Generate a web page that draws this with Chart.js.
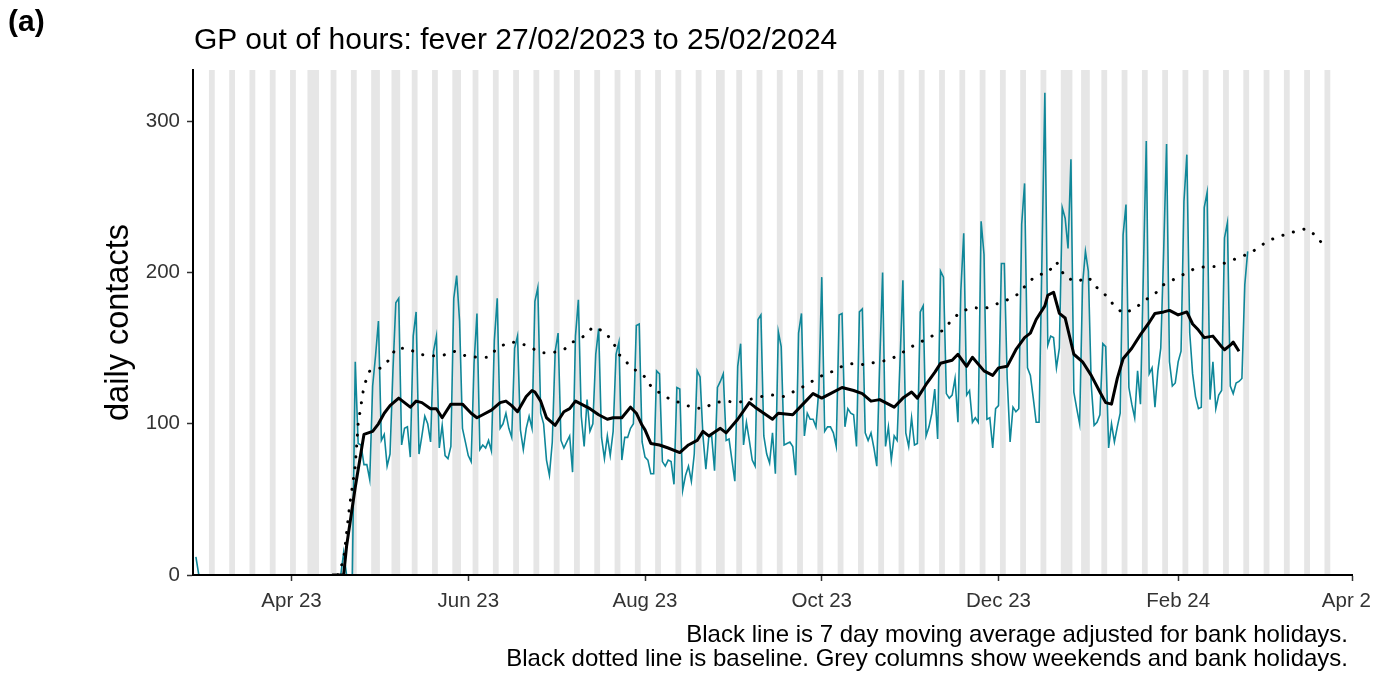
<!DOCTYPE html>
<html>
<head>
<meta charset="utf-8">
<title>GP out of hours: fever</title>
<script src="https://cdn.jsdelivr.net/npm/chart.js@4.4.1/dist/chart.umd.min.js"></script>
<style>
  body { margin: 0; background: #fff; font-family: "Liberation Sans", Arial, sans-serif; color: #000; }
  #wrap { position: relative; width: 1387px; height: 678px; overflow: hidden; background: #fff; }
  #chart { position: absolute; left: 0; top: 0; }
  #tag { position: absolute; left: 8px; top: 6px; font-size: 30px; line-height: 30px; font-weight: bold; }
  #title { position: absolute; left: 194px; top: 24px; font-size: 30px; line-height: 30px; white-space: nowrap; }
  #caption { position: absolute; left: 0; top: 622px; width: 1348px; text-align: right; font-size: 24px; line-height: 24px; white-space: nowrap; }
</style>
</head>
<body>
<div id="wrap">
  <canvas id="chart" width="1371" height="678"></canvas>
  <div id="tag">(a)</div>
  <div id="title">GP out of hours: fever 27/02/2023 to 25/02/2024</div>
  <div id="caption">Black line is 7 day moving average adjusted for bank holidays.<br>Black dotted line is baseline. Grey columns show weekends and bank holidays.</div>
</div>
<script>
// x positions are days counted from Sun 26/02/2023 (day 0)
const startDate = Date.UTC(2023, 1, 26);
const dayOf = (s) => Math.round((Date.parse(s) - startDate) / 864e5);

const tickDates = ["2023-04-01", "2023-06-01", "2023-08-01", "2023-10-01", "2023-12-01", "2024-02-01", "2024-04-01"];
const tickLabels = ["Apr 23", "Jun 23", "Aug 23", "Oct 23", "Dec 23", "Feb 24", "Apr 24"];
const yTicks = [0, 100, 200, 300];

const bankHolidays = ["2023-04-07", "2023-04-10", "2023-05-01", "2023-05-08", "2023-05-29",
  "2023-08-28", "2023-12-25", "2023-12-26", "2024-01-01"];
const shadeFrom = "2023-02-27";
const shadeTo = "2024-03-24";

// daily contacts, one value per day starting 27/02/2023 (day 1)
const dailyContacts = [
  12,
  0, 0, 0, 0, 0, 0, 0, 0, 0, 0,
  0, 0, 0, 0, 0, 0, 0, 0, 0, 0,
  0, 0, 0, 0, 0, 0, 0, 0, 0, 0,
  0, 0, 0, 0, 0, 0, 0, 0, 0, 0,
  0, 0, 0, 0, 0, 0, 0, 0, 0, 0,
  15, 0, 0, 0, 141,
  87, 86, 73, 73, 63, 125, 145,
  168, 89, 93, 72, 80, 135, 180,
  183, 86, 97, 98, 78, 158, 174,
  80, 92, 105, 100, 88, 148, 158,
  84, 99, 79, 77, 85, 183, 198,
  168, 97, 88, 79, 75, 140, 173,
  83, 86, 84, 89, 82, 155, 183,
  97, 100, 107, 97, 91, 150, 158,
  96, 83, 97, 105, 97, 181, 190,
  107, 100, 76, 66, 88, 148, 160,
  89, 84, 88, 92, 68, 158, 182,
  105, 85, 116, 95, 100, 146, 163,
  91, 77, 92, 79, 95, 146, 154,
  76, 91, 91, 97, 100, 165, 166,
  88, 78, 76, 67, 67, 135, 133,
  75, 72, 76, 75, 60, 124, 123,
  56, 66, 72, 62, 80, 135, 131,
  92, 70, 91, 92, 69, 124, 128,
  133, 89, 90, 76, 62, 138, 153,
  86, 101, 89, 76, 72, 169, 172,
  92, 80, 74, 94, 67, 161, 151,
  86, 87, 88, 85, 66, 160, 173,
  92, 107, 103, 103, 98, 123, 197,
  95, 98, 98, 94, 85, 172, 173,
  98, 110, 107, 106, 85, 174, 176,
  94, 89, 94, 84, 72, 140, 200,
  85, 98, 76, 92, 89, 140, 195,
  94, 85, 104, 86, 87, 174, 178,
  92, 98, 107, 123, 90, 201, 197,
  120, 117, 119, 130, 101, 188, 226,
  119, 122, 101, 104, 101, 234, 212,
  103, 104, 84, 110, 112, 206, 206,
  130, 88, 111, 108, 110, 232, 259,
  137, 132, 117, 101, 101, 210, 319,
  152, 158, 157, 137, 150, 243, 236,
  216, 275, 121, 110, 100, 192, 214,
  201, 126, 99, 101, 106, 153, 151,
  84, 100, 88, 98, 107, 225, 245,
  124, 113, 104, 135, 113, 200, 287,
  133, 137, 111, 135, 150, 214, 285,
  141, 125, 127, 141, 148, 247, 278,
  160, 133, 118, 110, 111, 243, 253,
  116, 141, 110, 119, 122, 223, 233,
  125, 120, 127, 128, 130, 192, 214,
];

// 7 day moving average
const maDays = [48, 52, 53, 56, 59, 62, 64, 66, 68, 71, 73, 75, 77, 79, 82, 84, 86, 89, 93, 96,
  98, 100, 103, 106, 108, 110, 112, 115, 117, 118, 120, 122, 125, 128, 130, 132, 135, 137, 140, 143,
  145, 148, 151, 153, 155, 156, 158, 161, 164, 168, 171, 174, 176, 178, 182, 184, 188, 192, 194, 197,
  200, 202, 207, 211, 214, 217, 220, 224, 228, 231, 234, 237, 242, 245, 248, 250, 253, 256, 258, 262,
  264, 267, 269, 273, 276, 278, 281, 284, 287, 289, 291, 294, 295, 297, 299, 301, 304, 307, 310, 313,
  315, 317, 319, 321, 324, 327, 330, 332, 335, 337, 340, 343, 345, 347, 349, 352, 355, 356, 358, 359, 361];
const maValues = [0, 0, 19, 58, 93, 95, 100, 107, 112, 117, 114, 111, 115, 114, 110, 110, 104, 113, 113, 107,
  104, 106, 109, 114, 115, 112, 108, 118, 122, 121, 115, 104, 99, 108, 110, 115, 112, 110, 106, 103,
  104, 104, 111, 107, 99, 96, 87, 86, 84, 81, 86, 89, 95, 92, 97, 94, 103, 114, 111, 107,
  103, 107, 106, 114, 120, 117, 120, 124, 122, 120, 115, 116, 111, 117, 121, 117, 126, 134, 140, 142,
  146, 138, 144, 135, 132, 137, 138, 149, 157, 160, 169, 178, 185, 187, 173, 170, 146, 141, 132, 121,
  114, 113, 130, 143, 150, 159, 167, 173, 174, 175, 172, 174, 166, 162, 157, 158, 151, 149, 152, 154, 148];

// baseline (dotted line)
const baselineDays = [50, 52, 54, 56, 57, 59, 61, 65, 68, 70, 74, 78, 82, 86, 90, 94, 98, 102, 105, 109,
  112, 116, 120, 124, 128, 131, 135, 138, 142, 145, 147, 150, 153, 156, 158, 162, 165, 168, 172, 176,
  180, 184, 188, 192, 196, 200, 204, 208, 212, 216, 220, 224, 228, 232, 236, 240, 244, 248, 252, 255,
  259, 262, 265, 269, 273, 277, 281, 285, 288, 291, 295, 298, 299, 301, 305, 309, 312, 315, 318, 321,
  325, 328, 332, 335, 338, 342, 346, 350, 353, 357, 361, 365, 368, 371, 375, 380, 384, 388, 390];
const baselineValues = [0, 10, 45, 72, 100, 125, 135, 137, 143, 150, 150, 146, 145, 145, 148, 145, 144, 144, 150, 154,
  154, 151, 147, 147, 149, 154, 158, 164, 161, 154, 146, 140, 135, 131, 125, 119, 116, 114, 111, 110,
  114, 115, 114, 116, 118, 119, 118, 122, 126, 131, 134, 138, 140, 139, 141, 142, 146, 151, 155, 158,
  162, 169, 174, 177, 176, 179, 182, 186, 193, 198, 200, 207, 204, 197, 194, 197, 190, 185, 178, 173,
  176, 181, 186, 192, 195, 199, 203, 204, 204, 207, 210, 213, 217, 221, 224, 227, 229, 224, 218];

Chart.defaults.font.family = '"Liberation Sans", Arial, sans-serif';

// grey columns for weekends and bank holidays, drawn through the x scale
const greyColumns = {
  id: "greyColumns",
  beforeDatasetsDraw(chart) {
    const { ctx, chartArea: area, scales: { x } } = chart;
    const hols = new Set(bankHolidays.map(dayOf));
    const first = dayOf(shadeFrom);
    const last = dayOf(shadeTo);
    ctx.save();
    ctx.beginPath();
    ctx.rect(area.left, area.top, area.right - area.left, area.bottom - area.top);
    ctx.clip();
    ctx.fillStyle = "#e6e6e6";
    let runStart = null;
    for (let d = first; d <= last + 1; d++) {
      const grey = d <= last && (d % 7 === 0 || d % 7 === 6 || hols.has(d));
      if (grey && runStart === null) runStart = d;
      if (!grey && runStart !== null) {
        const x0 = x.getPixelForValue(runStart - 0.5);
        const x1 = x.getPixelForValue(d - 0.5);
        ctx.fillRect(x0, area.top, x1 - x0, area.bottom - area.top);
        runStart = null;
      }
    }
    ctx.restore();
  },
};

new Chart(document.getElementById("chart"), {
  type: "line",
  data: {
    datasets: [
      {
        label: "daily contacts",
        data: dailyContacts.map((v, i) => ({ x: i + 1, y: v })),
        borderColor: "#0f8799",
        borderWidth: 1.6,
        pointRadius: 0,
        tension: 0,
        order: 3,
      },
      {
        label: "baseline",
        data: baselineDays.map((d, i) => ({ x: d, y: baselineValues[i] })),
        borderColor: "#000",
        borderWidth: 3,
        borderDash: [0.1, 10.8],
        borderCapStyle: "round",
        pointRadius: 0,
        tension: 0,
        order: 2,
      },
      {
        label: "7 day moving average",
        data: maDays.map((d, i) => ({ x: d, y: maValues[i] })),
        borderColor: "#000",
        borderWidth: 3,
        borderJoinStyle: "round",
        pointRadius: 0,
        tension: 0,
        order: 1,
      },
    ],
  },
  options: {
    responsive: false,
    animation: false,
    events: [],
    layout: { padding: { left: 0, right: 19, top: 70, bottom: 0 } },
    plugins: {
      legend: { display: false },
      tooltip: { enabled: false },
    },
    scales: {
      x: {
        type: "linear",
        min: 0,
        max: 400,
        afterBuildTicks: (axis) => {
          axis.ticks = tickDates.map((s) => ({ value: dayOf(s) }));
        },
        afterFit: (axis) => {
          axis.height = 103;
          axis.paddingLeft = 0;
          axis.paddingRight = 0;
        },
        ticks: {
          callback: (v, i) => tickLabels[i],
          color: "#333",
          font: { size: 20.5 },
          padding: 8,
          maxRotation: 0,
          autoSkip: false,
        },
        grid: { drawOnChartArea: false, tickLength: 6, tickColor: "#333", tickWidth: 1.5 },
        border: { color: "#000", width: 2, z: 1 },
      },
      y: {
        min: 0,
        max: 334,
        afterBuildTicks: (axis) => {
          axis.ticks = yTicks.map((v) => ({ value: v }));
        },
        afterFit: (axis) => {
          axis.width = 193;
        },
        ticks: { color: "#333", font: { size: 20.5 }, padding: 7 },
        grid: { drawOnChartArea: false, tickLength: 6, tickColor: "#333", tickWidth: 1.5 },
        border: { color: "#000", width: 2, z: 1 },
        title: {
          display: true,
          text: "daily contacts",
          color: "#000",
          font: { size: 32.5 },
          padding: { top: 100, bottom: 0 },
        },
      },
    },
  },
  plugins: [greyColumns],
});
</script>
</body>
</html>
